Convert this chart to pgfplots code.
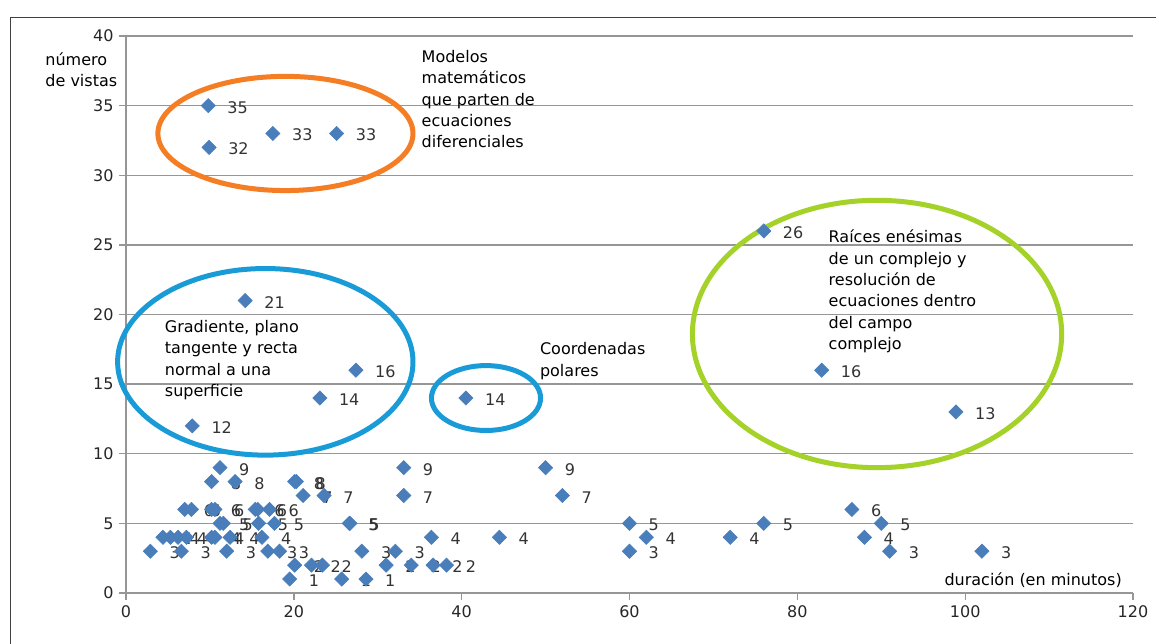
\documentclass[border=0pt]{standalone}
\usepackage{pgfplots}
\pgfplotsset{compat=1.18}
\usepackage{fontspec}
\setmainfont{DejaVu Sans}

\definecolor{markblue}{RGB}{74,126,187}
\definecolor{ringorange}{RGB}{245,125,35}
\definecolor{ringblue}{RGB}{25,155,215}
\definecolor{ringgreen}{RGB}{165,210,40}
\definecolor{gridgray}{RGB}{150,150,150}

% duracion (min), numero de vistas
\pgfplotstableread{
x y
9.8 35
9.9 32
17.5 33
25.1 33
14.2 21
27.4 16
23.1 14
7.9 12
40.5 14
76.0 26
82.9 16
98.9 13
50 9
52 7
60 5
62 4
60 3
72 4
76 5
86.5 6
90 5
88 4
91 3
102 3
33.1 9
33.1 7
20.1 8
21.1 7
23.6 7
26.6 5
36.4 4
44.5 4
28.1 3
32.1 3
20.1 2
22.1 2
23.4 2
31.0 2
34.0 2
36.6 2
38.2 2
19.5 1
25.7 1
28.6 1
2.9 3
6.6 3
12.0 3
16.9 3
18.3 3
4.4 4
5.3 4
6.2 4
7.2 4
10.2 4
10.6 4
12.4 4
16.2 4
11.2 5
11.6 5
15.8 5
17.7 5
26.7 5
7.0 6
7.8 6
10.2 6
10.6 6
15.4 6
15.7 6
17.1 6
10.2 8
13.0 8
20.3 8
11.2 9
}\vistas

\begin{document}
\begin{tikzpicture}
\begin{axis}[
    name=ax,
    width=604.2pt, height=334.2pt,
    scale only axis,
    xmin=0, xmax=120, ymin=0, ymax=40,
    xtick={0,20,...,120},
    ytick={0,5,...,40},
    axis x line*=bottom,
    axis y line*=left,
    axis line style={-, gridgray, line width=0.8pt},
    every outer x axis line/.append style={-},
    every outer y axis line/.append style={-},
    ymajorgrids,
    grid style={gridgray, line width=0.8pt},
    tick align=outside,
    major tick length=4pt,
    tick style={gridgray, line width=0.8pt},
    ticklabel style={font=\fontsize{9.6}{11}\selectfont, text=black!85},
    /pgf/number format/assume math mode=true,
    clip=false,
]

\addplot[only marks, mark=square*, mark size=3pt,
    mark options={rotate=45, fill=markblue, draw=markblue},
    nodes near coords, point meta=y,
    nodes near coords style={anchor=west, xshift=8pt, yshift=-1pt,
        font=\fontsize{9.6}{11}\selectfont, text=black!80}]
    table[x=x, y=y] {\vistas};

% rings
\draw[ringorange, line width=3pt] (axis cs:19,33) ellipse [x radius=15.2, y radius=4.1];
\draw[ringblue, line width=3pt] (axis cs:16.6,16.6) ellipse [x radius=17.6, y radius=6.7];
\draw[ringblue, line width=3pt] (axis cs:42.9,14.0) ellipse [x radius=6.5, y radius=2.33];
\draw[ringgreen, line width=3pt] (axis cs:89.5,18.6) ellipse [x radius=22.0, y radius=9.6];

% notes
\tikzset{note/.style={anchor=north west, align=left, inner sep=0pt,
    font=\fontsize{9.6}{12.8}\selectfont}}
\node[note] at (axis cs:35.2,39.0) {Modelos\\matemáticos\\que parten de\\ecuaciones\\diferenciales};
\node[note] at (axis cs:4.6,19.6) {Gradiente, plano\\tangente y recta\\normal a una\\superficie};
\node[note] at (axis cs:49.3,18.0) {Coordenadas\\polares};
\node[note] at (axis cs:83.7,26.1) {Raíces enésimas\\de un complejo y\\resolución de\\ecuaciones dentro\\del campo\\complejo};
\node[note] at (axis cs:-9.64,38.85) {número\\de vistas};
\node[anchor=east, inner sep=0pt, font=\fontsize{9.6}{11}\selectfont] at (axis cs:118.7,0.93) {duración (en minutos)};

% frame of the picture
\draw[black!75, line width=0.6pt] (axis cs:-13.8,-4) -- (axis cs:-13.8,41.36) -- (axis cs:125,41.36);
\end{axis}
\pgfresetboundingbox
\path[use as bounding box] ([xshift=-75.6pt,yshift=-30.6pt]ax.south west)
    rectangle ([xshift=13.8pt,yshift=21.6pt]ax.north east);
\end{tikzpicture}
\end{document}
